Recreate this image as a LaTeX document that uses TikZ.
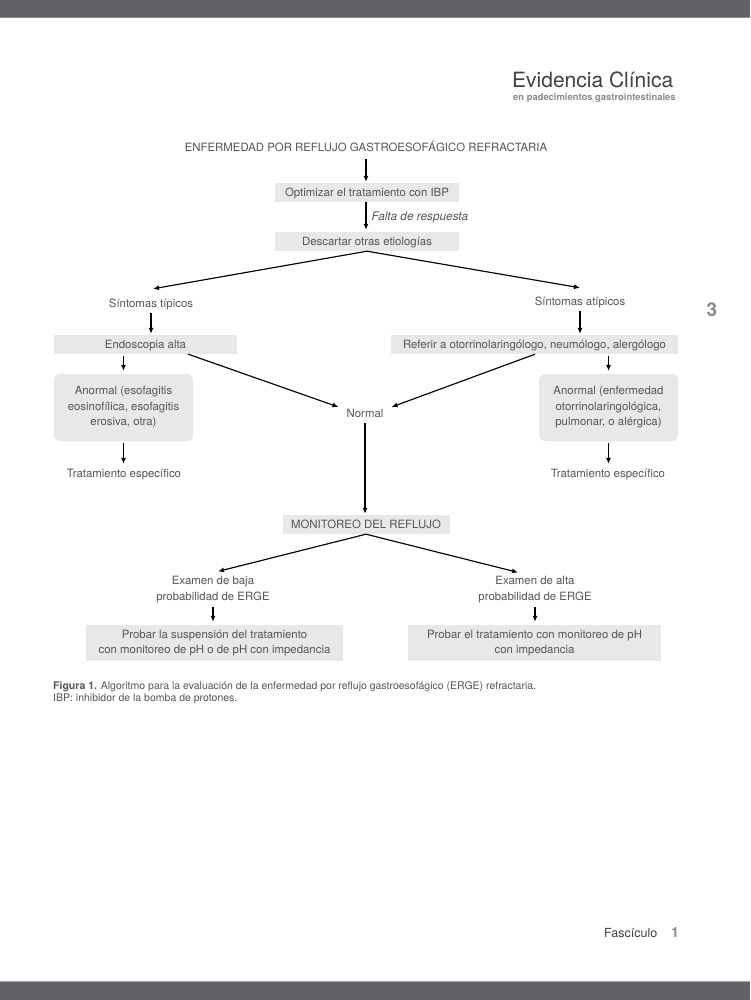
\documentclass[tikz,border=0pt]{standalone}
\usepackage{fontspec}
\setmainfont{TeX Gyre Heros}
\usetikzlibrary{arrows.meta,calc}
\definecolor{barcol}{HTML}{636166}
\definecolor{txt}{HTML}{555555}
\definecolor{lighttxt}{HTML}{8A8A8A}
\definecolor{boxfill}{HTML}{E8E8E8}
\begin{document}
\begin{tikzpicture}[x=1pt,y=-1pt,
  every node/.style={inner sep=0pt, text=txt, font=\fontsize{11.4}{16}\selectfont},
  lbl/.style={inner sep=2pt, text height=10pt, text depth=2pt},
  gbox/.style={fill=boxfill, minimum height=19pt, text height=10pt, text depth=2pt},
  gbox2/.style={fill=boxfill, minimum height=36pt, align=center, font=\fontsize{11.4}{15.5}\selectfont},
  rbox/.style={fill=boxfill, rounded corners=6pt, minimum width=139pt, minimum height=67pt, align=center, font=\fontsize{11.4}{15.5}\selectfont},
  twol/.style={inner sep=2pt, align=center},
  arr/.style={-{Latex[length=6pt,width=5pt]}, line width=1.15pt, black},
]
\useasboundingbox (0,0) rectangle (750,1000);
\fill[white] (0,0) rectangle (750,1000);
% bars
\fill[barcol] (0,0) rectangle (750,17);
\fill[black!45] (0,17) rectangle (750,18);
\fill[barcol] (0,982) rectangle (750,1000);
\fill[black!35] (0,981) rectangle (750,982);

% header
\node[anchor=south west, text=black!75, font=\fontsize{21}{24}\selectfont] (title) at (512,88) {Evidencia Clínica};
\node[anchor=south west, text=lighttxt, font=\bfseries\fontsize{9.4}{11}\selectfont] (subtitle) at (513,103) {en padecimientos gastrointestinales};
\node[text=lighttxt, font=\bfseries\fontsize{19}{20}\selectfont] (pagesec) at (712,310) {3};
\node[anchor=south west, text=black!75, font=\fontsize{12.5}{14}\selectfont] (fasc) at (604,938) {Fascículo};
\node[anchor=south west, text=lighttxt, font=\bfseries\fontsize{14}{14}\selectfont] (fascnum) at (671,938) {1};

% flowchart
\node[lbl] (erge) at (366,148) {ENFERMEDAD POR REFLUJO GASTROESOFÁGICO REFRACTARIA};
\node[gbox, minimum width=184pt] (opt) at (367,192.5) {Optimizar el tratamiento con IBP};
\node[gbox, minimum width=184pt] (desc) at (367,241.5) {Descartar otras etiologías};
\node[lbl] (tip) at (151,303) {Síntomas típicos};
\node[lbl] (atip) at (580,301) {Síntomas atípicos};
\node[gbox, minimum width=183pt] (endo) at (145.5,344.5) {Endoscopia alta};
\node[gbox, minimum width=287pt] (ref) at (534.5,344.5) {Referir a otorrinolaringólogo, neumólogo, alergólogo};
\node[rbox] (anl) at (123.5,407.5) {Anormal (esofagitis\\eosinofílica, esofagitis\\erosiva, otra)};
\node[rbox] (anr) at (608.5,407.5) {Anormal (enfermedad\\otorrinolaringológica,\\pulmonar, o alérgica)};
\node[lbl] (tesl) at (124,473) {Tratamiento específico};
\node[lbl] (tesr) at (608,473) {Tratamiento específico};
\node[lbl] (normal) at (365,413) {Normal};
\node[gbox, minimum width=167pt] (mon) at (366,524.5) {MONITOREO DEL REFLUJO};
\node[twol] (exl) at (213,590) {Examen de baja\\probabilidad de ERGE};
\node[twol] (exr) at (535,590) {Examen de alta\\probabilidad de ERGE};
\node[gbox2, minimum width=257pt] (pl) at (214.5,643) {Probar la suspensión del tratamiento\\con monitoreo de pH o de pH con impedancia};
\node[gbox2, minimum width=253pt] (pr) at (534.5,643) {Probar el tratamiento con monitoreo de pH\\con impedancia};

% caption
\node[anchor=north west, align=left, font=\fontsize{10.5}{12.5}\selectfont] (cap) at (53,681)
  {{\bfseries Figura 1.} Algoritmo para la evaluación de la enfermedad por reflujo gastroesofágico (ERGE) refractaria.\\
   IBP: inhibidor de la bomba de protones.};

% connectors
\draw[arr, shorten <=3pt, shorten >=1pt] (erge.south) -- (opt.north -| erge.south);
\draw[arr, shorten >=2pt] (opt.south -| erge.south) -- node[right=5pt, font=\itshape\fontsize{11.8}{14}\selectfont] (falta) {Falta de respuesta} (desc.north -| erge.south);
\draw[arr] (desc.south) -- ($(tip.north)+(2,-6)$);
\draw[arr] (desc.south) -- ($(atip.north)+(0,-5)$);
\draw[arr, shorten <=2pt, shorten >=1pt] (tip.south) -- (endo.north -| tip.south);
\draw[arr, shorten <=2pt, shorten >=1pt] (atip.south) -- (ref.north -| atip.south);
\draw[arr, shorten <=2pt, shorten >=3pt] (endo.south -| anl.north) -- (anl.north);
\draw[arr, shorten <=2pt, shorten >=3pt] (ref.south -| anr.north) -- (anr.north);
\draw[arr, shorten <=2pt, shorten >=1pt] (anl.south) -- (tesl.north -| anl.south);
\draw[arr, shorten <=2pt, shorten >=1pt] (anr.south) -- (tesr.north -| anr.south);
\draw[arr] ($(endo.south east)+(-49,0)$) -- ($(normal.west)+(-6,-6)$);
\draw[arr] ($(ref.south)+(0.5,0)$) -- ($(normal.east)+(6,-6)$);
\draw[arr, shorten <=2pt, shorten >=1pt] (normal.south) -- (mon.north -| normal.south);
\draw[arr] (mon.south) -- ($(exl.north)+(5,-3)$);
\draw[arr] (mon.south) -- ($(exr.north)+(-17,-2)$);
\draw[arr, shorten <=1pt, shorten >=3pt] (exl.south) -- (pl.north -| exl.south);
\draw[arr, shorten <=1pt, shorten >=3pt] (exr.south) -- (pr.north -| exr.south);
\end{tikzpicture}
\end{document}
